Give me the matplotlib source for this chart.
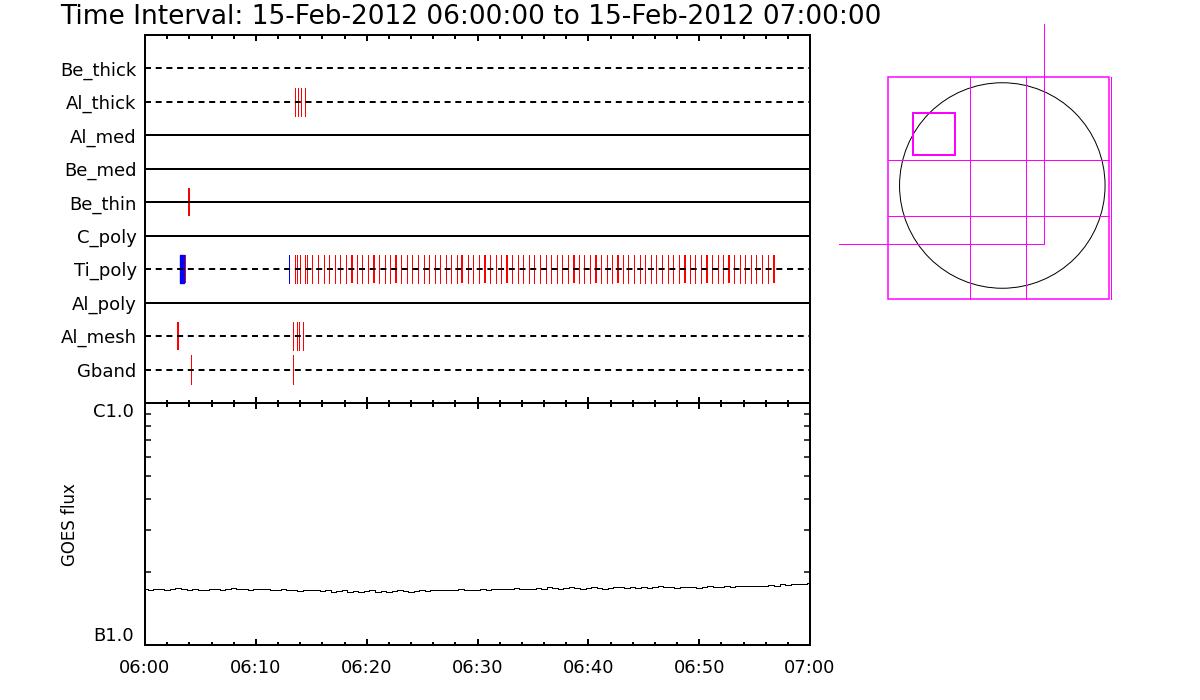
import numpy as np
import matplotlib.pyplot as plt
from matplotlib.patches import Rectangle, Circle
from matplotlib.ticker import MultipleLocator, LogLocator, NullFormatter

plt.rcParams['lines.scale_dashes'] = False
plt.rcParams['font.family'] = ['DejaVu Sans']

# --- data -------------------------------------------------------------
title = "Time Interval: 15-Feb-2012 06:00:00 to 15-Feb-2012 07:00:00"

channels = ["Be_thick", "Al_thick", "Al_med", "Be_med", "Be_thin",
            "C_poly", "Ti_poly", "Al_poly", "Al_mesh", "Gband"]
dashed = [True, True, False, False, False, False, True, False, True, True]

# event times, minutes after 06:00
al_thick_red = [13.56, 13.83, 14.10, 14.46]
be_thin_red = [3.93]
ti_poly_blue_span = (3.16, 3.52)
ti_poly_blue = [13.02]
ti_poly_red = [3.60, 13.51, 13.74, 14.01, 14.41, 14.64, 15.09, 15.61, 16.12, 16.63,
               17.12, 17.62, 18.11, 18.65, 19.13, 19.61, 20.12, 20.63, 21.11,
               21.63, 22.13, 22.62, 23.12, 23.64, 24.12, 24.63, 25.15, 25.62,
               26.14, 26.64, 27.13, 27.64, 28.12, 28.63, 29.12, 29.62, 30.14,
               30.65, 31.13, 31.64, 32.12, 32.63, 33.14, 33.63, 34.13, 34.65,
               35.12, 35.64, 36.15, 36.63, 37.15, 37.65, 38.14, 38.68, 39.16,
               39.64, 40.15, 40.66, 41.14, 41.66, 42.16, 42.68, 43.16, 43.62,
               44.15, 44.63, 45.14, 45.65, 46.13, 46.65, 47.16, 47.64, 48.15,
               48.70, 49.17, 49.65, 50.16, 50.67, 51.16, 51.67, 52.18, 52.66,
               53.17, 53.66, 54.16, 54.68, 55.16, 55.67, 56.18, 56.73]
ti_poly_thick = [3.60, 18.65, 20.63, 22.62, 28.63, 30.65, 32.63, 38.68,
                 40.66, 42.68, 48.70, 50.67, 52.66, 56.73]
al_mesh_red = [2.97, 13.38, 13.74, 13.92, 14.28]
al_mesh_thick = [2.97]
gband_red = [4.18, 13.38]

# GOES flux, 30 s cadence, units of 1e-7 W/m^2
goes_time = np.arange(0, 60.01, 0.5)
goes_flux = [1.70, 1.69, 1.71, 1.70, 1.68, 1.70, 1.72, 1.70, 1.69, 1.70, 1.69,
             1.68, 1.71, 1.70, 1.69, 1.70, 1.72, 1.71, 1.70, 1.69, 1.70,
             1.71, 1.70, 1.69, 1.68, 1.70, 1.69, 1.68, 1.67, 1.68, 1.69,
             1.68, 1.67, 1.68, 1.66, 1.67, 1.68, 1.66, 1.67, 1.65, 1.67,
             1.68, 1.66, 1.67, 1.66, 1.67, 1.68, 1.67, 1.66, 1.67, 1.68,
             1.67, 1.68, 1.69, 1.68, 1.69, 1.68, 1.70, 1.69, 1.68, 1.69,
             1.70, 1.69, 1.70, 1.71, 1.70, 1.71, 1.72, 1.71, 1.70, 1.71,
             1.72, 1.71, 1.73, 1.72, 1.71, 1.72, 1.73, 1.72, 1.71, 1.72,
             1.73, 1.72, 1.71, 1.72, 1.74, 1.73, 1.72, 1.73, 1.72, 1.73,
             1.72, 1.73, 1.75, 1.74, 1.73, 1.72, 1.73, 1.74, 1.73, 1.72,
             1.74, 1.75, 1.73, 1.74, 1.75, 1.74, 1.75, 1.76, 1.75, 1.76,
             1.76, 1.75, 1.77, 1.76, 1.78, 1.77, 1.78, 1.79, 1.78, 1.80]
time_ticks = [0, 10, 20, 30, 40, 50, 60]
time_labels = ["06:00", "06:10", "06:20", "06:30", "06:40", "06:50", "07:00"]

# locator map, arcsec
sun_radius = 970
fov_x = (-1082, 1010)
fov_y = (-1074, 1021)
grid_x = [-302, 227]
grid_y = [-291, 238]
zoom_x = (-846, -449)
zoom_y = (291, 687)
cross_xy = (394, -552)
cross_end = (-1542, 1525)

# --- figure -----------------------------------------------------------
PT = 0.72  # points per pixel at dpi 100
fig = plt.figure(figsize=(12, 7), dpi=100)


def px_axes(x0, y0, x1, y1):
    return fig.add_axes([x0 / 1200, 1 - y1 / 700, (x1 - x0) / 1200, (y1 - y0) / 700])


ax1 = px_axes(145, 35, 810, 403)
ax2 = px_axes(145, 403, 810, 645)
ax3 = px_axes(830, 15, 1130, 310)

fig.text(60 / 1200, 1 - 24 / 700, title, fontsize=19, va="baseline", ha="left")

# top panel: detector rows
rows = {name: i + 1 for i, name in enumerate(channels)}
h = 0.42
for name, d in zip(channels, dashed):
    y = rows[name]
    if d:
        ax1.plot([0, 60], [y, y], color="black", lw=2 * PT,
                 dashes=(6 * PT, 4.7 * PT), dash_capstyle="butt", zorder=3)
    else:
        ax1.plot([0, 60], [y, y], color="black", lw=2 * PT, zorder=3)


def events(times, row, color, lw_px=1):
    y = rows[row]
    ax1.vlines(times, y - h, y + h, colors=color, lw=lw_px * PT, zorder=2,
               antialiased=False)


events(al_thick_red, "Al_thick", "red")
events(be_thin_red, "Be_thin", "red", 2)
events([t for t in ti_poly_red if t not in ti_poly_thick], "Ti_poly", "red")
events(ti_poly_thick, "Ti_poly", "red", 2)
events(ti_poly_blue, "Ti_poly", "blue")
ax1.broken_barh([(ti_poly_blue_span[0], ti_poly_blue_span[1] - ti_poly_blue_span[0])],
                (rows["Ti_poly"] - h, 2 * h), color="blue", zorder=2)
events([t for t in al_mesh_red if t not in al_mesh_thick], "Al_mesh", "red")
events(al_mesh_thick, "Al_mesh", "red", 2)
events(gband_red, "Gband", "red")

ax1.set_xlim(0, 60)
ax1.set_ylim(11, 0)
ax1.set_yticks(range(1, 11), channels, fontsize=13)
ax1.tick_params(axis="y", length=0, pad=6)
ax1.xaxis.set_major_locator(MultipleLocator(10))
ax1.xaxis.set_minor_locator(MultipleLocator(2))
ax1.tick_params(axis="x", which="both", direction="in", top=True, bottom=True,
                labelbottom=False, width=2 * PT)
ax1.tick_params(axis="x", which="major", length=6 * PT)
ax1.tick_params(axis="x", which="minor", length=3.5 * PT)

# bottom panel: GOES
ax2.plot(goes_time, np.array(goes_flux) * 1e-7, color="black", lw=1 * PT,
         drawstyle="steps-mid", antialiased=False)
ax2.set_yscale("log")
ax2.set_ylim(1e-7, 1e-6)
ax2.set_xlim(0, 60)
ax2.set_yticks([1e-7, 1e-6], ["B1.0", "C1.0"], fontsize=13)
ax2.yaxis.set_minor_locator(LogLocator(base=10, subs=np.arange(2, 10)))
ax2.yaxis.set_minor_formatter(NullFormatter())
labs = ax2.get_yticklabels()
labs[0].set_verticalalignment("bottom")
labs[1].set_verticalalignment("top")
ax2.tick_params(axis="y", which="major", length=0, pad=8)
ax2.tick_params(axis="y", which="minor", direction="in", left=True, right=True,
                length=6 * PT, width=1.5 * PT)
ax2.set_xticks(time_ticks, time_labels, fontsize=13)
ax2.xaxis.set_minor_locator(MultipleLocator(2))
ax2.tick_params(axis="x", which="both", direction="in", top=True, bottom=True,
                width=2 * PT, pad=10)
ax2.tick_params(axis="x", which="major", length=6 * PT)
ax2.tick_params(axis="x", which="minor", length=3.5 * PT)
fig.text(70 / 1200, 1 - 525 / 700, "GOES flux", rotation=90, fontsize=12,
         ha="center", va="center")

for ax in (ax1, ax2):
    for sp in ax.spines.values():
        sp.set_linewidth(2 * PT)

# locator map
mag = "#ff00ff"
ax3.set_xlim((830 - 1002.3) * 9.44, (1130 - 1002.3) * 9.44)
ax3.set_ylim((185.5 - 310) * 9.44, (185.5 - 15) * 9.44)
ax3.axis("off")
ax3.add_patch(Circle((0, 0), sun_radius, fill=False, color="black", lw=1 * PT))
ax3.add_patch(Rectangle((fov_x[0], fov_y[0]), fov_x[1] - fov_x[0], fov_y[1] - fov_y[0],
                        fill=False, edgecolor=mag, lw=1.5 * PT))
ax3.plot([fov_x[1] + 16, fov_x[1] + 16], fov_y, color=mag, lw=1 * PT)
for gx in grid_x:
    ax3.plot([gx, gx], fov_y, color=mag, lw=1 * PT)
for gy in grid_y:
    ax3.plot(fov_x, [gy, gy], color=mag, lw=1 * PT)
ax3.add_patch(Rectangle((zoom_x[0], zoom_y[0]), zoom_x[1] - zoom_x[0], zoom_y[1] - zoom_y[0],
                        fill=False, edgecolor=mag, lw=2 * PT))
ax3.plot([cross_xy[0], cross_xy[0]], [cross_xy[1], cross_end[1]], color=mag, lw=1 * PT)
ax3.plot([cross_end[0], cross_xy[0]], [cross_xy[1], cross_xy[1]], color=mag, lw=1 * PT)

fig.savefig("out.png", dpi=100)
